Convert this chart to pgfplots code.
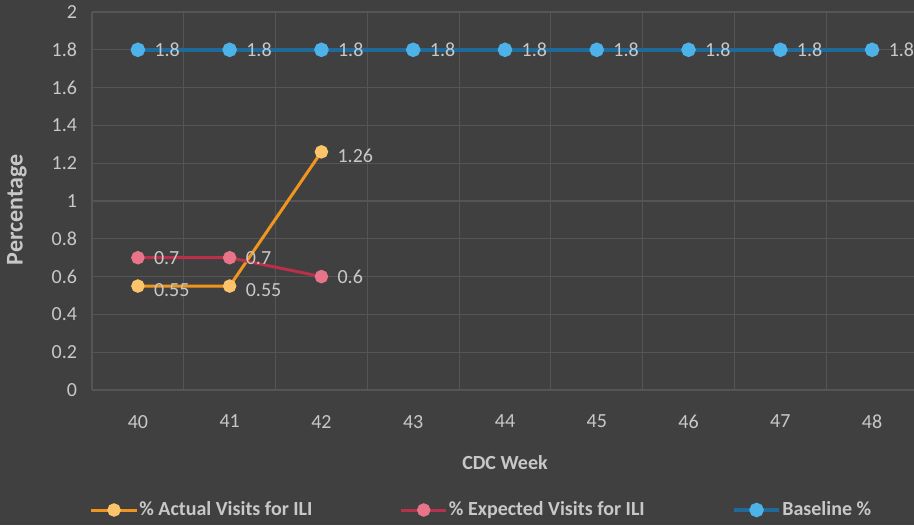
\documentclass[border=0pt]{standalone}
\usepackage{fontspec}
\setmainfont{Carlito}
\usepackage{pgfplots}
\pgfplotsset{compat=1.18}

\definecolor{bg}{HTML}{404040}
\definecolor{gridc}{HTML}{555555}
\definecolor{txt}{HTML}{C8C8C8}
\definecolor{orline}{HTML}{F0951E}
\definecolor{ormark}{HTML}{FCC46A}
\definecolor{rdline}{HTML}{B8304A}
\definecolor{rdmark}{HTML}{E8748A}
\definecolor{blline}{HTML}{1F6A99}
\definecolor{blmark}{HTML}{4DB2E8}

\begin{document}
\begin{tikzpicture}
  \path[use as bounding box, fill=bg] (0,0) rectangle (457pt,262.5pt);
  \begin{axis}[
      at={(46pt,67.5pt)}, anchor=south west,
      scale only axis,
      width=413pt, height=189pt,
      xmin=39.5, xmax=48.5,
      ymin=0, ymax=2,
      xtick={40,...,48},
      minor xtick={39.5,40.5,...,48.5},
      ytick={0,0.2,...,2},
      xminorgrids, ymajorgrids,
      grid style={gridc, line width=0.6pt},
      minor grid style={gridc, line width=0.6pt},
      axis line style={draw=none},
      major tick style={draw=none},
      minor tick style={draw=none},
      /pgf/number format/assume math mode=true,
      ticklabel style={text=txt, font=\normalsize},
      xticklabel style={yshift=-9pt},
      yticklabel style={xshift=-4pt},
      xlabel={\textbf{CDC Week}},
      xlabel style={at={(rel axis cs:0.5,0)}, anchor=center, yshift=-36.5pt, text=txt},
      ylabel={\textbf{Percentage}},
      ylabel style={at={(rel axis cs:0,0.5)}, anchor=center, yshift=37.5pt, xshift=-4.5pt, text=txt, font=\large},
      legend columns=3,
      legend style={at={(rel axis cs:0.5,0)}, anchor=center, yshift=-60pt, xshift=-12pt,
        fill=none, draw=none, text=txt, font=\bfseries,
        /tikz/every even column/.append style={column sep=43pt},
        inner sep=0pt, nodes={inner sep=0.5pt}},
      legend image code/.code={\draw[mark repeat=2,mark phase=2] plot coordinates {(0cm,0cm)(0.4cm,0cm)(0.8cm,0cm)};},
      nodes near coords,
      every node near coord/.append style={anchor=west, xshift=4pt, text=txt, font=\normalsize},
      clip=false,
    ]
    \addplot[orline, line width=1.5pt, mark=*, mark size=2.6pt,
      mark options={fill=ormark, draw=ormark},
      every node near coord/.append style={yshift=-2pt}]
      coordinates {(40,0.55) (41,0.55) (42,1.26)};
    \addlegendentry{\% Actual Visits for ILI}
    \addplot[rdline, line width=1.5pt, mark=*, mark size=2.6pt,
      mark options={fill=rdmark, draw=rdmark}]
      coordinates {(40,0.7) (41,0.7) (42,0.6)};
    \addlegendentry{\% Expected Visits for ILI}
    \addplot[blline, line width=2pt, mark=*, mark size=2.6pt,
      mark options={fill=blmark, draw=blmark}]
      coordinates {(40,1.8) (41,1.8) (42,1.8) (43,1.8) (44,1.8) (45,1.8) (46,1.8) (47,1.8) (48,1.8)};
    \addlegendentry{Baseline \%}
  \end{axis}
\end{tikzpicture}
\end{document}
